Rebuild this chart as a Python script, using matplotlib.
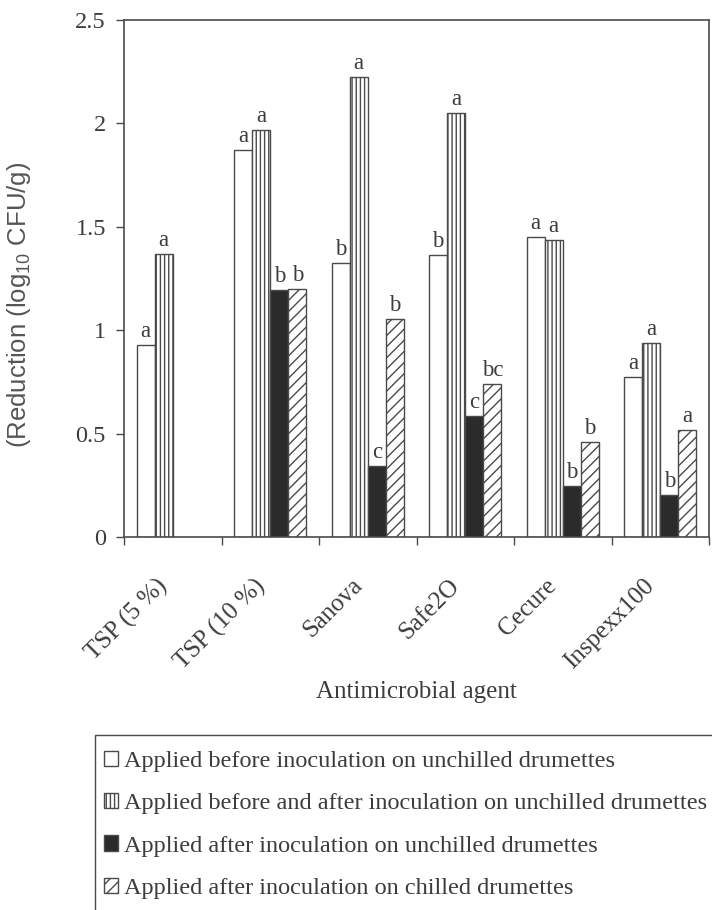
import numpy as np
import matplotlib
matplotlib.use("Agg")
from matplotlib import pyplot as plt
from matplotlib.patches import Rectangle
from matplotlib.transforms import ScaledTranslation

# data
categories = ["TSP (5 %)", "TSP (10 %)", "Sanova", "Safe2O", "Cecure", "Inspexx100"]
before = [0.93, 1.87, 1.325, 1.365, 1.45, 0.775]
before_after = [1.37, 1.97, 2.225, 2.05, 1.435, 0.94]
after_unchilled = [np.nan, 1.195, 0.345, 0.585, 0.245, 0.205]
after_chilled = [np.nan, 1.20, 1.055, 0.74, 0.46, 0.515]

letters_before = ["a", "a", "b", "b", "a", "a"]
letters_before_after = ["a", "a", "a", "a", "a", "a"]
letters_after_unchilled = ["", "b", "c", "c", "b", "b"]
letters_after_chilled = ["", "b", "b", "bc", "b", "a"]

series_names = [
    "Applied before inoculation on unchilled drumettes",
    "Applied before and after inoculation on unchilled drumettes",
    "Applied after inoculation on unchilled drumettes",
    "Applied after inoculation on chilled drumettes",
]

ink = "#3c3c3c"
edge = "#4a4a4a"
plt.rcParams["font.family"] = ["Liberation Serif", "DejaVu Serif"]
plt.rcParams["hatch.linewidth"] = 1.0
plt.rcParams["hatch.color"] = edge
plt.rcParams["mathtext.fontset"] = "custom"
plt.rcParams["mathtext.rm"] = "Liberation Sans"

fig = plt.figure(figsize=(7.12, 9.10), dpi=100)
ax = fig.add_axes([124 / 712, 1 - 537 / 910, (709 - 124) / 712, (537 - 20) / 910])

x = np.arange(len(categories))
w = 0.185
styles = [
    dict(facecolor="white", hatch=None),
    dict(facecolor="white", hatch="||||"),
    dict(facecolor="#2b2b2b", hatch=None),
    dict(facecolor="white", hatch="///"),
]
values = [before, before_after, after_unchilled, after_chilled]
letters = [letters_before, letters_before_after, letters_after_unchilled, letters_after_chilled]

handles = []
for i, (vals, st) in enumerate(zip(values, styles)):
    pos = x + (i - 1.5) * w
    bars = ax.bar(pos, vals, width=w, edgecolor=edge, linewidth=1.0, **st)
    handles.append(bars)
    for xp, v, lab in zip(pos, vals, letters[i]):
        if lab and not np.isnan(v):
            ax.text(xp, v + 0.015, lab, ha="center", va="bottom",
                    fontsize=16.5, color=ink)

ax.set_xlim(-0.5, len(categories) - 0.5)
ax.set_ylim(0, 2.5)
ax.set_yticks([0, 0.5, 1, 1.5, 2, 2.5])
ax.set_yticklabels(["0", "0.5", "1", "1.5", "2", "2.5"])
ax.set_xticks(x)
ax.set_xticklabels(categories, rotation=45, ha="right", va="top",
                   rotation_mode="anchor")
ax.set_xticks(np.arange(-0.5, len(categories) + 0.5, 1), minor=True)
ax.tick_params(axis="x", which="major", length=0, pad=27, labelsize=18, colors=ink)
ax.tick_params(axis="x", which="minor", length=6, width=1, color=edge, direction="out")
ax.tick_params(axis="y", length=6, width=1, color=edge, pad=7, labelsize=17.5, labelcolor=ink)
shift = ScaledTranslation(-0.17, 0, fig.dpi_scale_trans)
for lbl in ax.get_xticklabels():
    lbl.set_transform(lbl.get_transform() + shift)

for s in ax.spines.values():
    s.set_color(edge)
    s.set_linewidth(1.2)

ax.set_ylabel(r"(Reduction (log$_{\mathrm{10}}$ CFU/g)", family="Liberation Sans",
              fontsize=18.5, color="#555555")
ax.yaxis.set_label_coords(-0.156, 0.449)
ax.set_xlabel("Antimicrobial agent", fontsize=18, color=ink)
ax.xaxis.set_label_coords(0.5, -0.2785)

# legend box runs off the right and bottom edges, as in the original
fig.add_artist(Rectangle((95 / 712, -0.05), 1, 0.05 + 1 - 735 / 910,
                         transform=fig.transFigure, facecolor="none",
                         edgecolor=edge, linewidth=1.0))
leg = fig.legend(handles, series_names, loc="upper left",
                 bbox_to_anchor=(95 / 712, 1 - 742 / 910), borderaxespad=0,
                 fontsize=17.5, frameon=False,
                 handlelength=0.6, handleheight=0.6, handletextpad=0.25,
                 labelspacing=0.87, borderpad=0.35, labelcolor=ink)

fig.savefig("out.png", dpi=100)
